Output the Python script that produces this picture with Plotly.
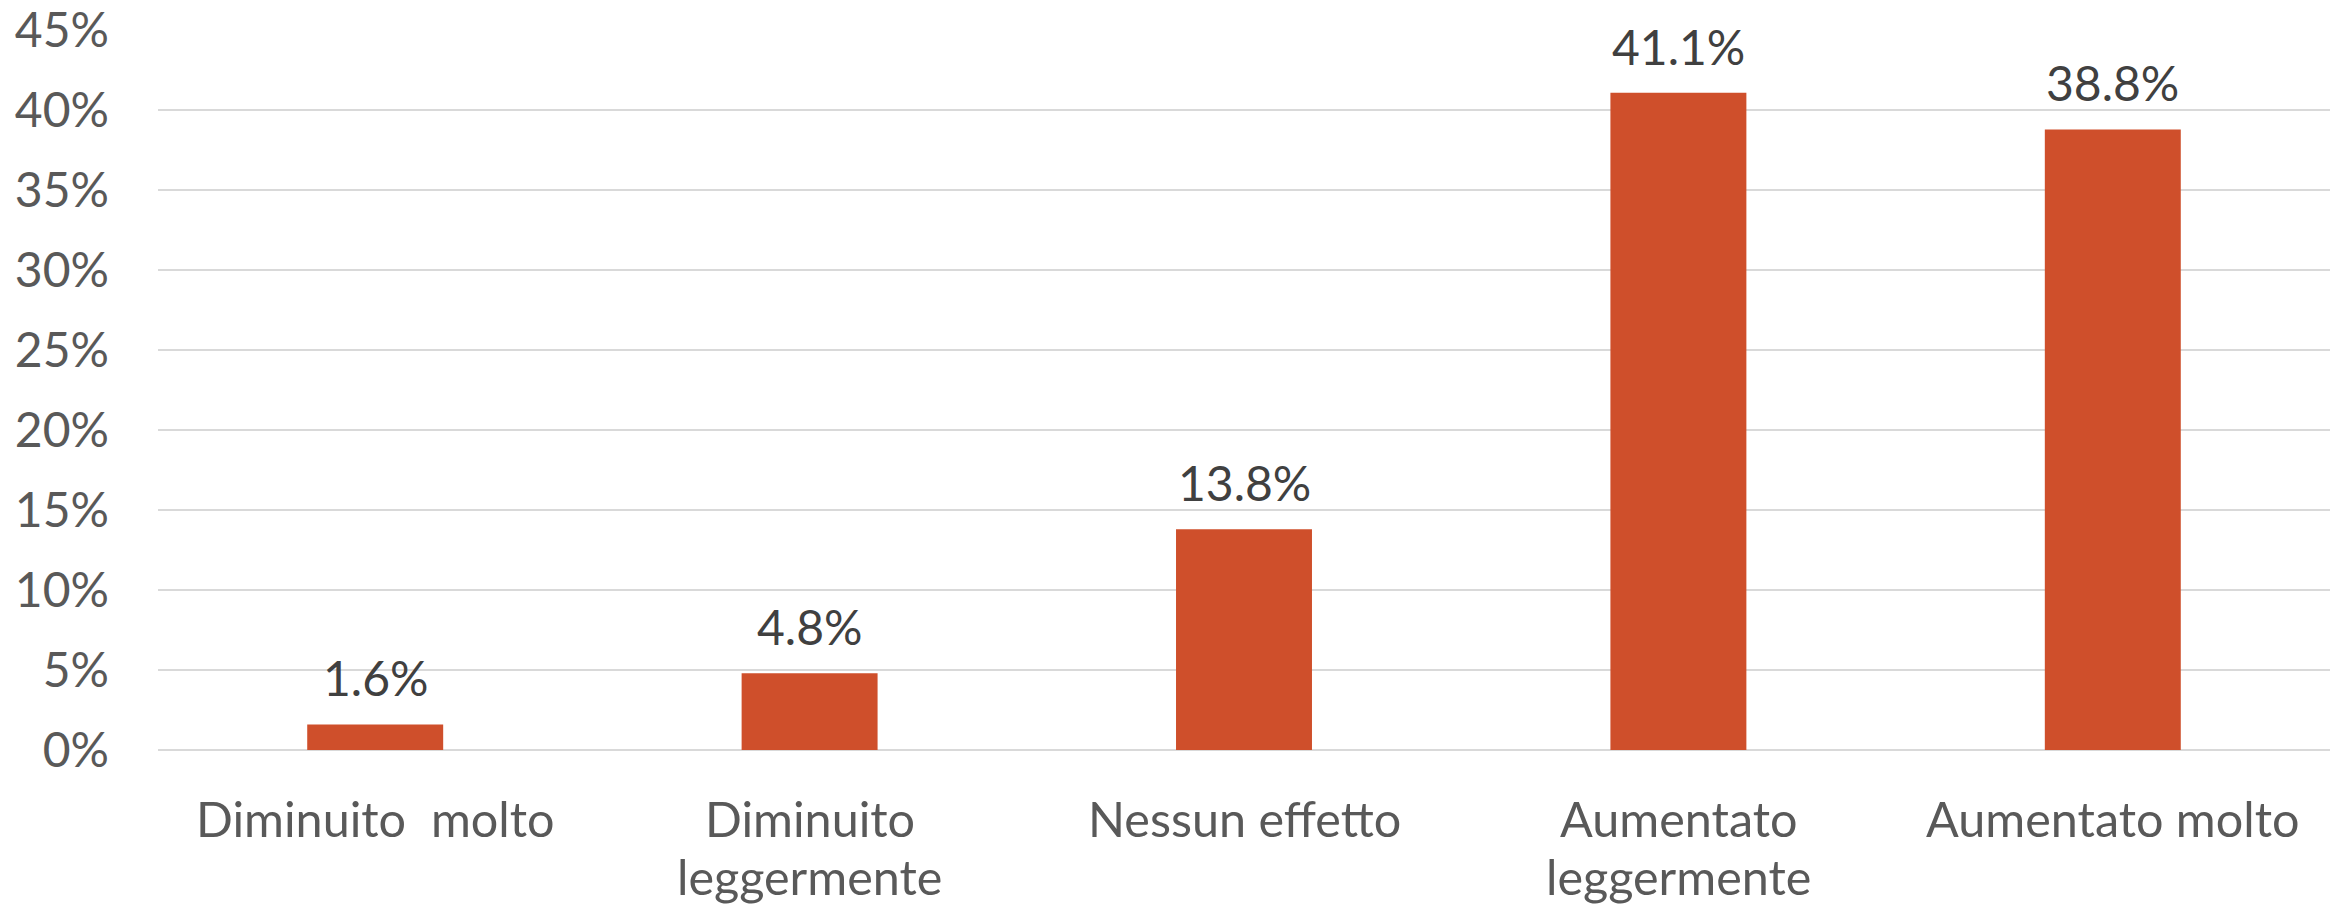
import plotly.graph_objects as go

categories = ["Diminuito  molto", "Diminuito<br>leggermente", "Nessun effetto",
              "Aumentato<br>leggermente", "Aumentato molto"]
values = [1.6, 4.8, 13.8, 41.1, 38.8]
labels = ["1.6%", "4.8%", "13.8%", "41.1%", "38.8%"]
y_ticks = [0, 5, 10, 15, 20, 25, 30, 35, 40, 45]
y_tick_text = ["0%", "5%", "10%", "15%", "20%", "25%", "30%", "35%", "40%", "45%"]

FONT = "Lato"
BAR = "#CF4F2B"
AXIS_TEXT = "#595959"

fig = go.Figure()
fig.add_trace(go.Bar(x=categories, y=values, marker_color=BAR, marker_line_width=0,
                     hoverinfo="skip"))

# data labels
for c, v, t in zip(categories, values, labels):
    fig.add_annotation(x=c, y=v, text=t, showarrow=False, yanchor="bottom",
                       yshift=16, font=dict(family=FONT, size=48, color="#404040"))

# category labels (line spacing tighter than plotly's default tick labels)
for c in categories:
    for i, line in enumerate(c.split("<br>")):
        fig.add_annotation(x=c, y=0, xref="x", yref="y", text=line, showarrow=False,
                           yanchor="middle", yshift=-68 - 58 * i,
                           font=dict(family=FONT, size=48.5, color=AXIS_TEXT))

fig.update_layout(
    width=2341, height=908,
    margin=dict(l=158, r=11, t=30, b=158, autoexpand=False),
    paper_bgcolor="white", plot_bgcolor="white",
    bargap=0.687, showlegend=False,
    font=dict(family=FONT, size=47, color=AXIS_TEXT),
)
fig.update_xaxes(showline=False, ticks="", showgrid=False, showticklabels=False,
                 automargin=False)
fig.update_yaxes(range=[0, 45.02], tickvals=y_ticks, ticktext=y_tick_text,
                 showgrid=True, gridcolor="#D9D9D9", gridwidth=2,
                 zeroline=True, zerolinecolor="#D9D9D9", zerolinewidth=2,
                 showline=False, ticks="", ticklabelstandoff=48, automargin=False,
                 tickfont=dict(family=FONT, size=48, color=AXIS_TEXT))

fig.write_html("out.html", config={"displayModeBar": False},
               post_script="document.body.style.margin='0';document.body.style.overflow='hidden';")
